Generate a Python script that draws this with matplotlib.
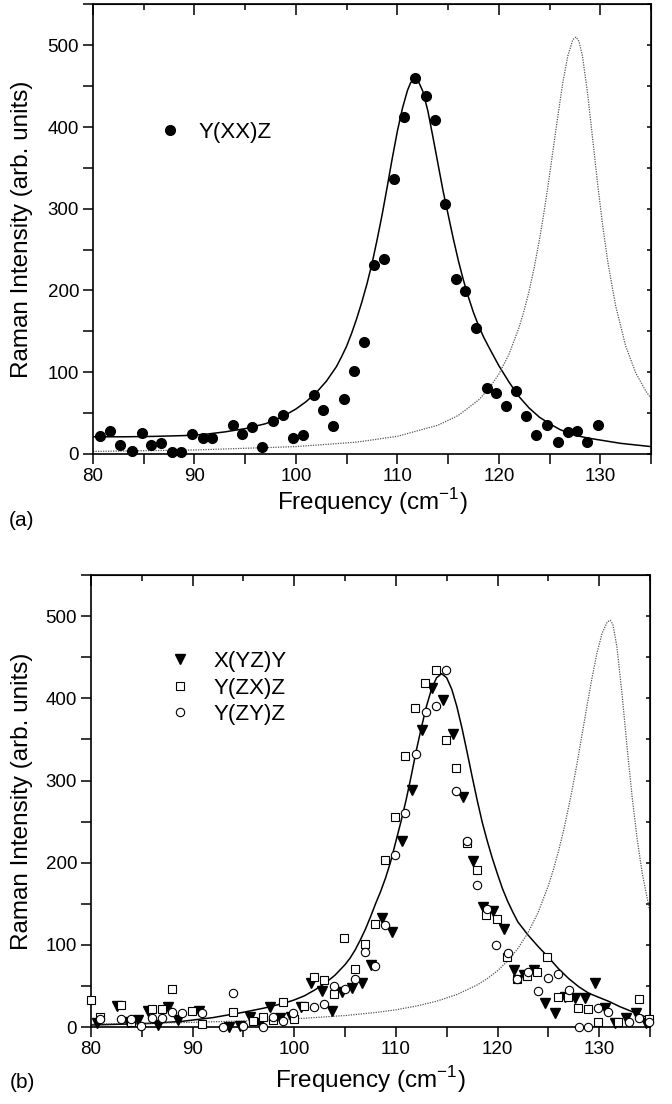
import matplotlib
matplotlib.use("Agg")
import matplotlib.pyplot as plt
from matplotlib.ticker import MultipleLocator

plt.rcParams['font.family'] = ['Liberation Sans', 'DejaVu Sans']
plt.rcParams['mathtext.fontset'] = 'custom'
plt.rcParams['mathtext.rm'] = 'Liberation Sans'

# ---- panel (a): Y(XX)Z data ----
freq_a = [80.7, 81.7, 82.7, 83.8, 84.8, 85.7, 86.7, 87.8, 88.7, 89.8, 90.8, 91.7,
          93.8, 94.7, 95.7, 96.7, 97.7, 98.7, 99.7, 100.7, 101.8, 102.7, 103.7,
          104.7, 105.7, 106.7, 107.7, 108.7, 109.7, 110.7, 111.7, 112.8, 113.7,
          114.7, 115.8, 116.7, 117.7, 118.8, 119.7, 120.7, 121.7, 122.7, 123.7,
          124.7, 125.8, 126.8, 127.7, 128.7, 129.8]
int_xx = [22, 28, 11, 4, 26, 11, 13, 2, 2, 25, 19, 20,
          35, 24, 33, 8, 40, 48, 19, 23, 72, 54, 34,
          67, 101, 137, 231, 239, 337, 412, 460, 438, 408,
          306, 214, 199, 154, 81, 75, 59, 77, 47, 23,
          35, 15, 27, 28, 15, 36]

# fit curve (solid) and second mode (dotted)
fit_a_x = [80, 83, 86, 89, 91, 93, 95, 97, 98, 99, 100, 101, 102, 103, 104, 104.5,
           105, 105.5, 106, 106.5, 107, 107.5, 108, 108.5, 109, 109.5, 110, 110.5,
           111, 111.3, 111.7, 112.1, 112.5, 113, 113.5, 114, 114.5, 115, 115.5,
           116, 116.5, 117, 117.5, 118, 118.5, 119, 120, 121, 122, 123, 124, 125,
           126, 127, 128, 129, 130, 132, 135]
fit_a_y = [21, 21, 21.5, 22.5, 24, 27, 31, 37, 42, 48, 55, 64, 75, 89, 107, 119,
           132, 148, 166, 186, 208, 233, 262, 293, 327, 362, 395, 423,
           445, 454, 459, 455, 444, 420, 388, 355, 322, 293, 264,
           237, 213, 192, 173, 157, 143, 131, 108, 88, 70, 56, 45, 37,
           30, 25, 21.5, 19, 17, 13, 9]
mode_a_x = [80, 90, 100, 106, 110, 114, 116, 118, 119, 120, 121, 122, 122.5, 123,
            123.5, 124, 124.3, 124.8, 125.3, 125.8, 126.3, 126.8, 127.3, 127.6,
            127.9, 128.25, 128.75, 129.25, 129.75, 130.25, 130.75, 131.5, 132.5,
            133.5, 134.5, 135]
mode_a_y = [3.1, 4.9, 9, 14.5, 21.6, 35.2, 47.1, 66, 79.7, 97.7, 122, 155, 176, 200,
            229, 262, 284, 324, 368, 412, 454, 487, 507, 510,
            505, 486, 441, 385, 329, 278, 234, 182, 132,
            99, 76.6, 68]

# ---- panel (b) data ----
freq_yzy = [80.6, 82.6, 83.6, 84.65, 85.65, 86.6, 87.6, 88.6, 90.6, 93.6, 94.65,
            95.65, 96.6, 97.6, 98.6, 99.7, 100.7, 101.6, 102.7, 103.7, 104.7,
            105.65, 106.65, 107.6, 108.6, 109.65, 110.65, 111.6, 112.6, 113.6,
            114.6, 115.6, 116.65, 117.6, 118.6, 119.6, 120.6, 121.6, 122.65,
            123.6, 124.7, 125.65, 126.65, 127.6, 128.6, 129.6, 130.6, 131.6,
            132.6, 133.6, 134.6]
int_yzy = [5, 26, 6.5, 9, 20, 2.4, 25, 9, 20, 0.4, 1.6,
           12.5, 4.5, 24, 10.5, 12, 25, 53, 44, 20, 43,
           47, 53, 75, 133, 116, 226, 288, 362, 413,
           398, 357, 280, 202, 146, 141, 119, 69, 63,
           70, 29, 17, 36, 35, 35, 53, 23, 4.5,
           10.5, 17, 5]

freq_zx = [80.0, 80.9, 82.95, 83.9, 85.97, 86.96, 87.94, 89.9, 90.9, 93.95,
           95.97, 96.9, 97.9, 98.93, 100.0, 101.0, 101.95, 102.93, 103.95,
           104.94, 105.98, 106.97, 107.95, 108.94, 109.9, 110.9, 111.92,
           112.9, 113.96, 114.94, 115.93, 116.98, 117.96, 118.9, 119.96,
           120.9, 121.9, 122.9, 123.9, 124.9, 125.93, 126.9, 127.9, 128.9,
           129.9, 131.9, 133.94, 134.9]
int_zx = [33, 12, 27, 5.7, 21.5, 22.3, 45.8, 19.8, 3.2, 18.6,
          7.7, 12.5, 9, 30.8, 9.3, 25.5, 61, 57, 39.8,
          108.6, 70.6, 100.6, 126, 203, 256, 330, 388,
          419, 435, 349, 315, 224, 191, 136, 131.5,
          85.5, 59, 62, 67, 85.5, 36, 37, 22.7, 21.5,
          6.5, 6.5, 34, 10]

freq_zy = [80.9, 82.95, 83.9, 84.95, 85.97, 86.96, 87.94, 88.93, 90.95, 92.95,
           94.0, 95.0, 96.9, 97.9, 98.93, 99.9, 101.98, 102.9, 103.95, 105.0,
           105.98, 106.97, 107.95, 108.94, 109.9, 110.9, 111.95, 112.94,
           113.96, 114.94, 115.93, 116.98, 117.96, 119.0, 119.9, 121.0,
           121.9, 123.0, 123.96, 125.0, 126.0, 127.0, 127.97, 128.95, 129.9,
           130.9, 132.95, 133.94, 134.9]
int_zy = [10, 9.3, 10, 1, 11, 10.5, 18.6, 16.7, 16.7, 0.5,
          41, 1, 0, 11.8, 7.7, 16.7, 24, 27.6, 50, 45.8,
          58, 91.6, 74.5, 124, 209, 260, 332, 383,
          391, 435, 287, 226, 173, 144, 99.5, 89.6,
          58, 67, 44, 60, 64.5, 45, 0.4, 0, 22.7,
          18.6, 6.5, 10.5, 6]

fit_b_x = [80, 83, 86, 89, 92, 95, 97, 99, 100, 101, 102, 103, 104, 105, 105.5,
           106, 106.5, 107, 107.5, 108, 108.5, 109, 109.5, 110, 110.5, 111, 111.5,
           112, 112.5, 113, 113.5, 114, 114.5, 115, 115.5, 116, 116.5, 117,
           117.5, 118, 118.5, 119, 119.5, 120, 120.5, 121, 121.5, 122, 123, 124,
           125, 126, 127, 128, 129, 130, 131, 132, 133, 134, 135]
fit_b_y = [2.5, 3.5, 4.5, 7, 11.5, 18, 23, 29, 33, 38, 45, 53, 63, 76, 84,
           94, 106, 119, 134, 150, 165, 182, 202, 226, 250, 276, 305,
           336, 364, 390, 411, 425, 430, 425, 411, 390, 364, 335,
           305, 276, 249, 226, 205, 186, 168, 153, 140, 128, 112, 98,
           85, 71, 59, 49, 41, 36, 31, 25, 20, 15, 10.5]
mode_b_x = [80, 85, 90, 95, 100, 105, 108, 110, 112, 114, 116, 118, 119, 120,
            121, 122, 123, 124, 125, 125.5, 126, 126.5, 127, 127.3, 127.8, 128.3,
            128.8, 129.3, 129.8, 130.3, 130.8, 131.1, 131.35, 131.75, 132.25,
            132.75, 133.25, 133.75, 134.25, 135]
mode_b_y = [3.7, 4.6, 5.7, 7.4, 9.9, 14, 17.7, 21, 25.5, 31.4, 39.6, 51.2, 59,
            68.5, 80.5, 95.5, 114.8, 139.6, 172, 191.6, 214, 239, 268, 286, 319,
            354.6, 390.6, 425, 456, 479.5, 493, 495, 490, 462.5, 405.6,
            340.5, 279.6, 228, 186.5, 140]

fig = plt.figure(figsize=(6.72, 11.04), dpi=100)
ax_a = fig.add_axes([0.1384, 0.5888, 0.8304, 0.4072])
ax_b = fig.add_axes([0.1354, 0.0697, 0.8318, 0.4094])


def style_axes(ax):
    ax.set_xlim(80, 135)
    ax.set_ylim(0, 550)
    ax.xaxis.set_major_locator(MultipleLocator(10))
    ax.xaxis.set_minor_locator(MultipleLocator(5))
    ax.yaxis.set_major_locator(MultipleLocator(100))
    ax.yaxis.set_minor_locator(MultipleLocator(50))
    ax.tick_params(which='both', direction='out', length=7, width=1.1,
                   labelsize=13.5, top=False, right=False, pad=3)
    for s in ax.spines.values():
        s.set_linewidth(1.2)
    # inward ticks on top and right
    top = ax.secondary_xaxis('top')
    top.xaxis.set_major_locator(MultipleLocator(10))
    top.xaxis.set_minor_locator(MultipleLocator(5))
    top.tick_params(which='major', direction='in', length=8, width=1.1, labeltop=False)
    top.tick_params(which='minor', direction='in', length=4, width=1.1)
    right = ax.secondary_yaxis('right')
    right.yaxis.set_major_locator(MultipleLocator(100))
    right.yaxis.set_minor_locator(MultipleLocator(50))
    right.tick_params(which='both', direction='in', length=3, width=1.1, labelright=False)


def axis_titles(ax, xlab_y):
    pos = ax.get_position()
    fig.text(22 / 672, (pos.y0 + pos.y1) / 2, 'Raman Intensity (arb. units)',
             rotation=90, ha='center', va='center', fontsize=17.5)
    fig.text((pos.x0 + pos.x1) / 2, 1 - xlab_y / 1104, 'Frequency (cm$^{-1}$)',
             ha='center', va='center', fontsize=17.5)


# panel (a)
ax_a.plot(fit_a_x, fit_a_y, color='black', lw=1.1)
ax_a.plot(mode_a_x, mode_a_y, color='#555555', lw=0.9, ls=(0, (1, 1)))
pa, = ax_a.plot(freq_a, int_xx, 'o', color='black', ms=7, clip_on=False, zorder=3)
style_axes(ax_a)
ax_a.legend([pa], ['Y(XX)Z'], loc='center left', bbox_to_anchor=(0.102, 0.716),
            frameon=False, fontsize=16, handlelength=1.0, handletextpad=0.8,
            borderaxespad=0)
axis_titles(ax_a, 502)
fig.text(22 / 672, 1 - 521 / 1104, '(a)', fontsize=15, va='center', ha='center')

# panel (b)
ax_b.plot(fit_b_x, fit_b_y, color='black', lw=1.1)
ax_b.plot(mode_b_x, mode_b_y, color='#555555', lw=0.9, ls=(0, (1, 1)))
h1, = ax_b.plot(freq_yzy, int_yzy, 'v', color='black', ms=6.5, clip_on=False, zorder=3)
h2, = ax_b.plot(freq_zx, int_zx, 's', mfc='white', mec='black', mew=0.8, ms=5.5,
                clip_on=False, zorder=3)
h3, = ax_b.plot(freq_zy, int_zy, 'o', mfc='white', mec='black', mew=0.8, ms=6,
                clip_on=False, zorder=3)
style_axes(ax_b)
ax_b.legend([h1, h2, h3], ['X(YZ)Y', 'Y(ZX)Z', 'Y(ZY)Z'], loc='center left',
            bbox_to_anchor=(0.123, 0.75), frameon=False, fontsize=16,
            handlelength=1.0, handletextpad=1.0, labelspacing=0.25,
            borderaxespad=0)
axis_titles(ax_b, 1080)
fig.text(22 / 672, 1 - 1082 / 1104, '(b)', fontsize=15, va='center', ha='center')

fig.savefig('out.png', dpi=100)
